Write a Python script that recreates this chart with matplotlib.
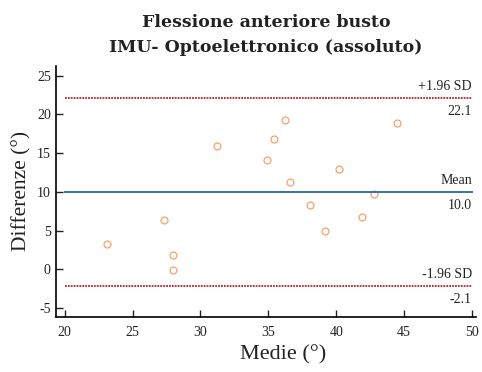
"""
Bland-Altman plot: Flessione anteriore busto, IMU vs Optoelettronico
"""
import numpy as np
import matplotlib
matplotlib.use("Agg")
import matplotlib.pyplot as plt

plt.rcParams['font.family'] = ['Liberation Serif', 'DejaVu Serif']
plt.rcParams['axes.unicode_minus'] = False

medie = [23.1, 27.3, 28.0, 28.0, 31.2, 36.2, 35.4, 34.9, 36.6, 38.1,
         39.2, 40.2, 41.9, 42.8, 44.5]
differenze = [3.2, 6.4, 1.9, -0.1, 15.9, 19.3, 16.8, 14.1, 11.2, 8.3,
              5.0, 13.0, 6.8, 9.7, 18.9]
mean_diff = 10.0
upper_loa = 22.1
lower_loa = -2.1

fig = plt.figure(figsize=(4.82, 3.72), dpi=100)
ax = fig.add_axes([0.1156, 0.149, 0.872, 0.674])

ax.plot(medie, differenze, 'o', mfc='none', mec='#f5a26a', ms=5, mew=0.9)
ax.plot([20, 50], [mean_diff, mean_diff], color='#3c6eb0', lw=1.4)
ax.plot([20, 50], [upper_loa, upper_loa], color='#b0232a', lw=1.3, ls=(0, (1, 0.6)))
ax.plot([20, 50], [lower_loa, lower_loa], color='#b0232a', lw=1.3, ls=(0, (1, 0.6)))

tc = '#222222'
ax.text(50, upper_loa + 0.6, '+1.96 SD', ha='right', va='bottom', fontsize=10, color=tc)
ax.text(50, upper_loa - 0.9, f'{upper_loa:.1f}', ha='right', va='top', fontsize=10, color=tc)
ax.text(50, mean_diff + 0.6, 'Mean', ha='right', va='bottom', fontsize=10, color=tc)
ax.text(50, mean_diff - 0.9, f'{mean_diff:.1f}', ha='right', va='top', fontsize=10, color=tc)
ax.text(50, lower_loa + 0.6, '-1.96 SD', ha='right', va='bottom', fontsize=10, color=tc)
ax.text(50, lower_loa - 0.9, f'{lower_loa:.1f}', ha='right', va='top', fontsize=10, color=tc)

ax.set_xlim(19.34, 50.3)
ax.set_ylim(-6.1, 26.25)
ax.set_xticks([20, 25, 30, 35, 40, 45, 50])
ax.set_yticks([-5, 0, 5, 10, 15, 20, 25])
ax.tick_params(direction='in', length=5, width=1, labelsize=10, colors=tc)
ax.tick_params(axis='x', pad=7)
ax.spines['top'].set_visible(False)
ax.spines['right'].set_visible(False)
ax.spines['left'].set_linewidth(1.2)
ax.spines['bottom'].set_linewidth(1.2)

ax.set_xlabel('Medie (°)', fontsize=16, color=tc)
ax.xaxis.set_label_coords(0.541, -0.115)
ax.set_ylabel('Differenze (°)', fontsize=15.5, color=tc)
fig.text(0.552, 0.962, 'Flessione anteriore busto\nIMU- Optoelettronico (assoluto)',
         ha='center', va='top', fontsize=12.5, fontweight='bold', color=tc,
         linespacing=1.6, family='DejaVu Serif')

fig.savefig('out.png', dpi=100)
